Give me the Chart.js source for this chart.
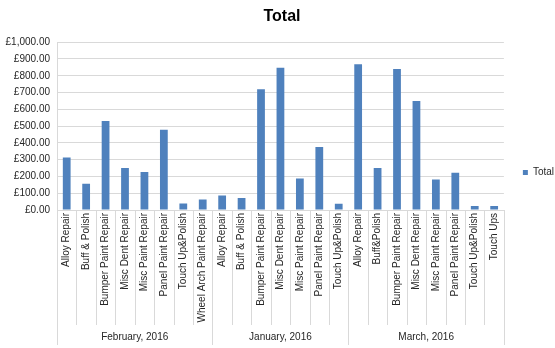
<!DOCTYPE html>
<html>
<head>
<meta charset="utf-8">
<script src="https://cdn.jsdelivr.net/npm/chart.js@4.4.0/dist/chart.umd.min.js"></script>
<style>
  html, body { margin: 0; padding: 0; background: #fff; }
  #wrap { width: 555px; height: 348px; position: relative; }
</style>
</head>
<body>
<div id="wrap"><canvas id="c" width="555" height="348"></canvas></div>
<script>
const groups = ["February, 2016", "January, 2016", "March, 2016"];
const febCategories = ["Alloy Repair", "Buff & Polish", "Bumper Paint Repair", "Misc Dent Repair", "Misc Paint Repair", "Panel Paint Repair", "Touch Up&Polish", "Wheel Arch Paint Repair"];
const janCategories = ["Alloy Repair", "Buff & Polish", "Bumper Paint Repair", "Misc Dent Repair", "Misc Paint Repair", "Panel Paint Repair", "Touch Up&Polish"];
const marCategories = ["Alloy Repair", "Buff&Polish", "Bumper Paint Repair", "Misc Dent Repair", "Misc Paint Repair", "Panel Paint Repair", "Touch Up&Polish", "Touch Ups"];
const febValues = [313, 157, 531, 250, 226, 478, 39, 63];
const janValues = [87, 71, 720, 847, 188, 375, 37];
const marValues = [869, 250, 840, 650, 182, 222, 24, 24];
const seriesName = "Total";
const yTicks = [0, 100, 200, 300, 400, 500, 600, 700, 800, 900, 1000];

const groupCats = [febCategories, janCategories, marCategories];
const labels = [].concat(febCategories, janCategories, marCategories);
const values = [].concat(febValues, janValues, marValues);

const GRID = "#d9d9d9";
const TEXT = "#262626";
Chart.defaults.font.family = "'Liberation Sans', Arial, sans-serif";
Chart.defaults.font.size = 10;
Chart.defaults.color = TEXT;

const groupAxisPlugin = {
  id: "groupAxis",
  afterDraw(chart) {
    const x = chart.scales.x;
    const ctx = chart.ctx;
    const n = labels.length;
    const w = (x.right - x.left) / n;
    const top = x.top;
    const innerBottom = top + 115;
    const outerBottom = x.bottom;
    ctx.save();
    ctx.strokeStyle = GRID;
    ctx.lineWidth = 1;
    const bounds = [0];
    let acc = 0;
    groupCats.forEach(g => { acc += g.length; bounds.push(acc); });
    for (let i = 0; i <= n; i++) {
      const px = Math.round(x.getPixelForValue(Math.min(i, n - 1)) + (i === n ? w / 2 : -w / 2)) + 0.5;
      const isGroup = bounds.includes(i);
      ctx.beginPath();
      ctx.moveTo(px, top);
      ctx.lineTo(px, isGroup ? outerBottom : innerBottom);
      ctx.stroke();
    }
    ctx.fillStyle = TEXT;
    ctx.font = "10px 'Liberation Sans', Arial, sans-serif";
    ctx.textAlign = "center";
    ctx.textBaseline = "middle";
    for (let g = 0; g < groups.length; g++) {
      const a = x.getPixelForValue(bounds[g]) - w / 2;
      const b = x.getPixelForValue(bounds[g + 1] - 1) + w / 2;
      ctx.fillText(groups[g], (a + b) / 2, innerBottom + 12);
    }
    ctx.restore();
  }
};

new Chart(document.getElementById("c"), {
  type: "bar",
  data: {
    labels: labels,
    datasets: [{
      label: seriesName,
      data: values,
      backgroundColor: "#4f81bd",
      borderWidth: 0,
      categoryPercentage: 1.0,
      barPercentage: 0.4
    }]
  },
  options: {
    responsive: false,
    animation: false,
    layout: { padding: { left: 0, right: -9, top: 0, bottom: 3 } },
    plugins: {
      title: {
        display: true,
        text: "Total",
        color: "#000",
        font: { size: 16, weight: "bold" },
        padding: { top: 7, bottom: 16 }
      },
      legend: {
        display: true,
        position: "right",
        labels: {
          boxWidth: 5,
          boxHeight: 5,
          padding: 19,
          color: TEXT,
          font: { size: 10 }
        }
      },
      tooltip: { enabled: false }
    },
    scales: {
      x: {
        offset: true,
        grid: { display: false, drawTicks: false },
        border: { display: true, color: GRID },
        ticks: {
          autoSkip: false,
          minRotation: 90,
          maxRotation: 90,
          padding: 3,
          color: TEXT,
          font: { size: 10 }
        },
        afterFit(s) { s.height = 135; }
      },
      y: {
        min: 0,
        max: 1000,
        afterBuildTicks(s) { s.ticks = yTicks.map(v => ({ value: v })); },
        grid: { color: GRID, drawTicks: false },
        border: { display: true, color: GRID },
        ticks: {
          padding: 7,
          color: TEXT,
          font: { size: 10 },
          callback: v => "£" + Number(v).toLocaleString("en-GB", { minimumFractionDigits: 2, maximumFractionDigits: 2 })
        },
        afterFit(s) { s.width = 57; }
      }
    }
  },
  plugins: [groupAxisPlugin]
});
</script>
</body>
</html>
